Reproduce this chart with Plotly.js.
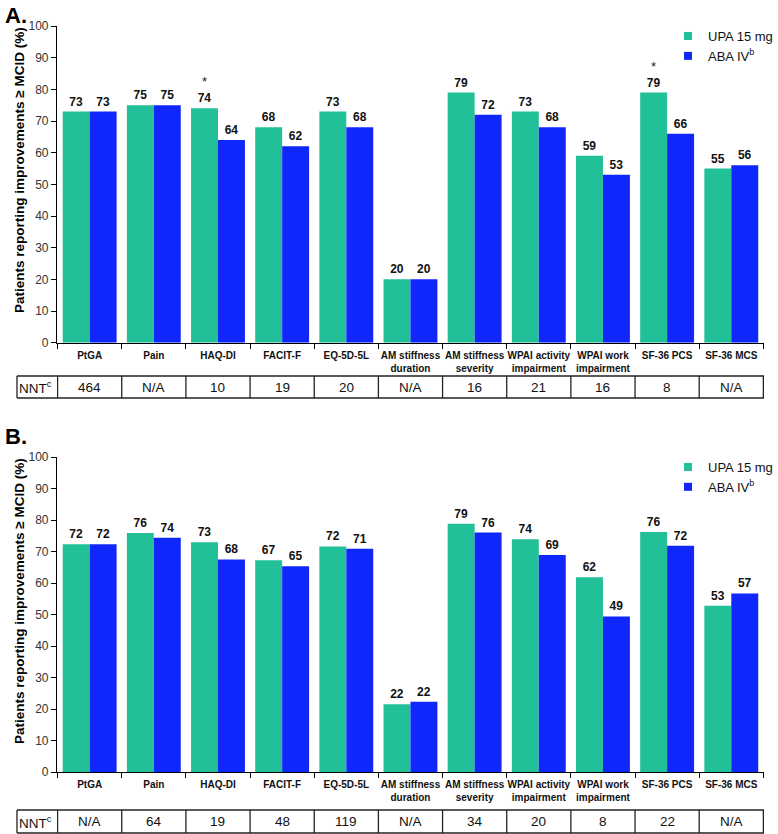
<!DOCTYPE html>
<html>
<head>
<meta charset="utf-8">
<script src="https://cdn.plot.ly/plotly-3.0.1.min.js"></script>
<style>html,body{margin:0;padding:0;background:#fff;}#chart{width:778px;height:834px;}</style>
</head>
<body>
<div id="chart"></div>
<script>
// ---------- data ----------
const categories = ['PtGA', 'Pain', 'HAQ-DI', 'FACIT-F', 'EQ-5D-5L', 'AM stiffness<br>duration',
  'AM stiffness<br>severity', 'WPAI activity<br>impairment', 'WPAI work<br>impairment', 'SF-36 PCS', 'SF-36 MCS'];
const seriesNames = ['UPA 15 mg', 'ABA IV<sup>b</sup>'];

const upaA = [73, 75, 74, 68, 73, 20, 79, 73, 59, 79, 55];
const abaA = [73, 75, 64, 62, 68, 20, 72, 68, 53, 66, 56];
const sigA = [false, false, true, false, false, false, false, false, false, true, false];
const nntA = ['464', 'N/A', '10', '19', '20', 'N/A', '16', '21', '16', '8', 'N/A'];

const upaB = [72.3, 75.9, 72.9, 67.2, 71.6, 21.5, 78.8, 73.9, 61.8, 76.2, 52.8];
const abaB = [72.3, 74.4, 67.5, 65.3, 70.9, 22.3, 76.0, 68.9, 49.4, 71.8, 56.7];
const upaBLabels = ['72', '76', '73', '67', '72', '22', '79', '74', '62', '76', '53'];
const abaBLabels = ['72', '74', '68', '65', '71', '22', '76', '69', '49', '72', '57'];
const nntB = ['N/A', '64', '19', '48', '119', 'N/A', '34', '20', '8', '22', 'N/A'];

const nntLabel = 'NNT<sup>c</sup>';
const yTitle = 'Patients reporting improvements ≥ MCID (%)';
const panelLabels = ['A.', 'B.'];

// ---------- styles ----------
const W = 778, H = 834;
const GREEN = '#22C098', BLUE = '#1027FB';
const FONT = 'Liberation Sans, Arial, sans-serif';
const NARROW = 'Liberation Sans Narrow, Liberation Sans, Arial, sans-serif';
const px = v => v / W;           // horizontal pixel -> paper
const py = v => 1 - v / H;       // vertical pixel -> paper
const bargap = 0.16;
const upaOffset = -(1 - bargap) / 4;

const xDom = [px(57), px(765)];
const panels = [
  {x: 'x', y: 'y', xa: 'xaxis', ya: 'yaxis', top: 26, bottom: 342.7, legend: 'legend',
   upa: upaA, aba: abaA, upaText: upaA.map(String), abaText: abaA.map(String), nnt: nntA,
   tableTop: 376, tableBottom: 398, label: panelLabels[0], labelY: 15, legY: 21},
  {x: 'x2', y: 'y2', xa: 'xaxis2', ya: 'yaxis2', top: 457, bottom: 772, legend: 'legend2',
   upa: upaB, aba: abaB, upaText: upaBLabels, abaText: abaBLabels, nnt: nntB,
   tableTop: 810, tableBottom: 833, label: panelLabels[1], labelY: 436, legY: 452}
];

const traces = [];
const shapes = [];
const annotations = [];
const layout = {
  width: W, height: H,
  margin: {l: 0, r: 0, t: 0, b: 0},
  paper_bgcolor: '#fff', plot_bgcolor: '#fff',
  barmode: 'group', bargap: bargap, bargroupgap: 0,
  font: {family: FONT, color: '#000'},
  showlegend: true
};

panels.forEach((p, k) => {
  const barText = {family: FONT, size: 12, color: '#111', weight: 'bold'};
  traces.push({
    type: 'bar', name: seriesNames[0], x: categories, y: p.upa, text: p.upaText,
    textposition: 'outside', textfont: barText, constraintext: 'none', cliponaxis: false,
    marker: {color: GREEN}, xaxis: p.x, yaxis: p.y, showlegend: false, hoverinfo: 'x+y'
  });
  traces.push({
    type: 'bar', name: seriesNames[1], x: categories, y: p.aba, text: p.abaText,
    textposition: 'outside', textfont: barText, constraintext: 'none', cliponaxis: false,
    marker: {color: BLUE}, xaxis: p.x, yaxis: p.y, showlegend: false, hoverinfo: 'x+y'
  });
  // legend entries
  [GREEN, BLUE].forEach((c, i) => traces.push({
    type: 'scatter', mode: 'markers', x: [null], y: [null], name: seriesNames[i],
    marker: {symbol: 'square', size: 8, color: c}, xaxis: p.x, yaxis: p.y,
    legend: p.legend, showlegend: true
  }));

  layout[p.xa] = {
    domain: xDom, anchor: p.y, type: 'category',
    showline: true, linecolor: '#000', linewidth: 1,
    ticks: 'outside', tickson: 'boundaries', ticklen: 5, tickcolor: '#000',
    tickangle: 0, automargin: false, ticklabelstandoff: 3,
    tickfont: {family: FONT, size: 10, color: '#111', weight: 'bold'},
    showgrid: false, zeroline: false, fixedrange: true
  };
  layout[p.ya] = {
    domain: [py(p.bottom), py(p.top)], anchor: p.x, range: [0, 100], dtick: 10,
    showline: true, linecolor: '#000', linewidth: 1,
    ticks: 'outside', ticklen: 5, tickcolor: '#000', automargin: false,
    tickfont: {family: FONT, size: 12, color: '#333'},
    showgrid: false, zeroline: false, fixedrange: true
  };
  layout[p.legend] = {
    x: px(669), xanchor: 'left', y: py(p.legY), yanchor: 'top',
    font: {family: FONT, size: 13, color: '#111'}, bgcolor: 'rgba(0,0,0,0)',
    itemwidth: 30, tracegroupgap: 0
  };

  // panel label
  annotations.push({xref: 'paper', yref: 'paper', x: px(3), y: py(p.labelY), xanchor: 'left', yanchor: 'middle',
    text: p.label, showarrow: false, font: {family: FONT, size: 22, weight: 'bold', color: '#000'}});
  // y title
  annotations.push({xref: 'paper', yref: 'paper', x: px(19), y: py(p.top + 144), xanchor: 'center', yanchor: 'middle',
    text: yTitle, textangle: -90, showarrow: false, font: {family: FONT, size: 13.5, weight: 'bold', color: '#000'}});

  // significance asterisks (panel A only has flags)
  if (k === 0) {
    sigA.forEach((s, i) => {
      if (!s) return;
      annotations.push({xref: p.x, yref: p.y, x: i + upaOffset, y: p.upa[i], yanchor: 'bottom', yshift: 17,
        text: '*', showarrow: false, font: {family: FONT, size: 13, color: '#222'}});
    });
  }

  // NNT table
  const t0 = py(p.tableTop), t1 = py(p.tableBottom), tm = (t0 + t1) / 2;
  const lineStyle = {color: '#222', width: 1.3};
  const leftDom = (17 - 57) / (765 - 57);
  shapes.push({type: 'line', xref: p.x + ' domain', yref: 'paper', x0: leftDom, x1: 1, y0: t0, y1: t0, line: lineStyle});
  shapes.push({type: 'line', xref: p.x + ' domain', yref: 'paper', x0: leftDom, x1: 1, y0: t1, y1: t1, line: lineStyle});
  shapes.push({type: 'line', xref: p.x + ' domain', yref: 'paper', x0: leftDom, x1: leftDom, y0: t0, y1: t1, line: lineStyle});
  for (let i = 0; i <= categories.length; i++) {
    shapes.push({type: 'line', xref: p.x, yref: 'paper', x0: i - 0.5, x1: i - 0.5, y0: t0, y1: t1, line: lineStyle});
  }
  annotations.push({xref: 'paper', yref: 'paper', x: px(36), y: tm, xanchor: 'center', yanchor: 'middle',
    text: nntLabel, showarrow: false, font: {family: NARROW, size: 13.5, color: '#111'}});
  p.nnt.forEach((v, i) => annotations.push({xref: p.x, yref: 'paper', x: i, y: tm, xanchor: 'center', yanchor: 'middle',
    text: v, showarrow: false, font: {family: NARROW, size: 13.5, color: '#111'}}));
});

layout.shapes = shapes;
layout.annotations = annotations;

Plotly.newPlot('chart', traces, layout, {displayModeBar: false, staticPlot: true});
</script>
</body>
</html>
